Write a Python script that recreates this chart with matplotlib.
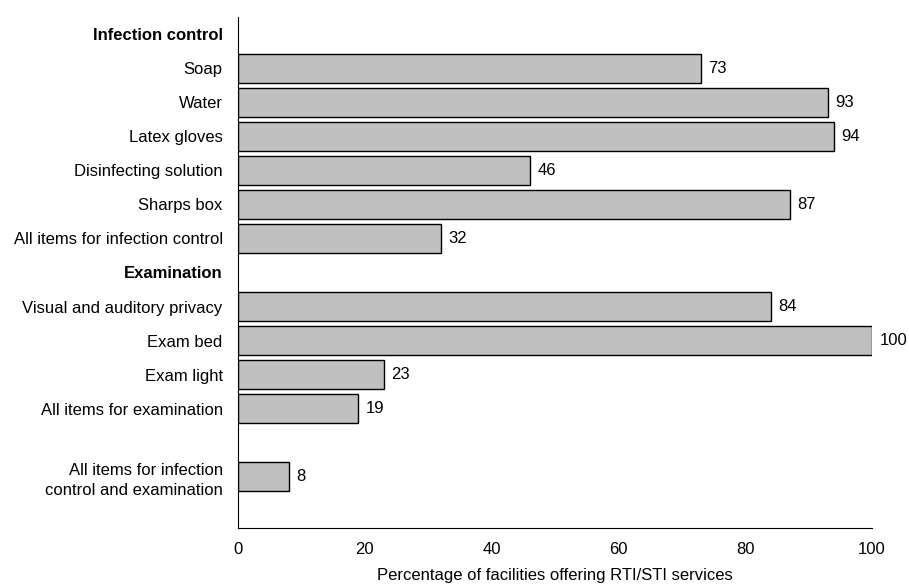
import numpy as np
import matplotlib.pyplot as plt

plt.rcParams['font.family'] = ['Liberation Sans', 'DejaVu Sans']

labels = ['Infection control', 'Soap', 'Water', 'Latex gloves', 'Disinfecting solution',
          'Sharps box', 'All items for infection control', 'Examination',
          'Visual and auditory privacy', 'Exam bed', 'Exam light',
          'All items for examination', '',
          'All items for infection\ncontrol and examination']
values = [None, 73, 93, 94, 46, 87, 32, None, 84, 100, 23, 19, None, 8]
headers = ['Infection control', 'Examination']

fig = plt.figure(figsize=(9.09, 5.85), dpi=100)
ax = fig.add_axes([238 / 909, 1 - 528 / 585, (872 - 238) / 909, (528 - 17) / 585])

pos = np.arange(len(labels))
for y, v in zip(pos, values):
    if v is None:
        continue
    ax.barh(y, v, height=0.85, color='#c0c0c0', edgecolor='black', linewidth=1)
    ax.text(v + 1.2, y, str(v), va='center', ha='left', fontsize=12)

ax.set_yticks(pos)
ax.set_yticklabels(labels, fontsize=12, linespacing=1.35)
for t in ax.get_yticklabels():
    if t.get_text() in headers:
        t.set_fontweight('bold')
ax.set_ylim(14.5, -0.5)
ax.set_xlim(0, 100)
ax.set_xticks([0, 20, 40, 60, 80, 100])
ax.tick_params(axis='both', length=0, labelsize=12)
ax.tick_params(axis='y', pad=11)
ax.tick_params(axis='x', pad=10)
ax.spines['top'].set_visible(False)
ax.spines['right'].set_visible(False)
ax.set_xlabel('Percentage of facilities offering RTI/STI services', fontsize=12, labelpad=8)

fig.savefig('out.png', dpi=100)
